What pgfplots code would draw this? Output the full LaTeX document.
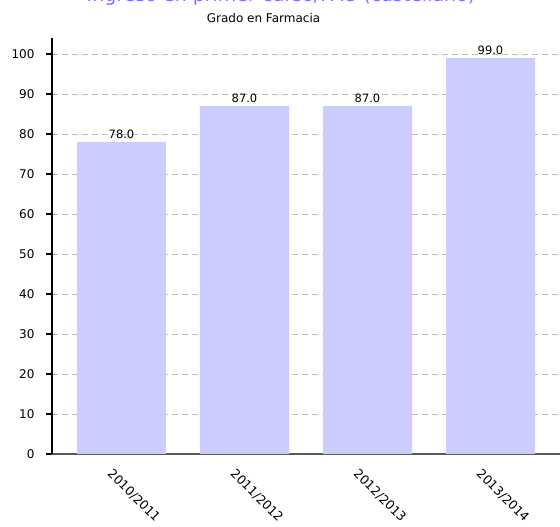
\documentclass[border=0pt]{standalone}
\usepackage{pgfplots}
\pgfplotsset{compat=1.18}
\usepackage{fontspec}
\setmainfont{DejaVu Sans}
\definecolor{barfill}{RGB}{204,204,255}
\definecolor{titleblue}{RGB}{120,120,255}
\definecolor{gridgray}{RGB}{190,190,190}
\begin{document}
\begin{tikzpicture}
\begin{axis}[
    at={(0,0)}, anchor=south west,
    scale only axis,
    width=508pt, height=416pt,
    xmin=-0.565, xmax=3.565,
    ymin=0, ymax=104,
    ybar, bar width=89pt, bar shift=0pt,
    axis lines=left,
    x axis line style={draw=black!65, line width=1.2pt, -},
    y axis line style={draw=black, line width=1.8pt, -},
    xtick={0,1,2,3},
    xticklabels={2010/2011,2011/2012,2012/2013,2013/2014},
    xtick style={draw=none},
    xticklabel style={xshift=-8pt, yshift=-3pt, rotate=-45, anchor=north west, font=\fontsize{12.5}{15}\selectfont},
    ytick={0,10,...,100},
    ytick style={draw=black, line width=1.8pt},
    tick align=outside,
    major tick length=6pt,
    yticklabel style={font=\fontsize{12}{14}\selectfont, xshift=-8pt},
    /pgf/number format/assume math mode=true,
    ymajorgrids,
    major grid style={gridgray, dash pattern=on 6pt off 4pt, line width=0.8pt},
    nodes near coords={\pgfmathprintnumber[fixed,fixed zerofill,precision=1]{\pgfplotspointmeta}},
    nodes near coords style={font=\fontsize{11.5}{14}\selectfont, text=black},
]
\addplot+[fill=barfill, draw=none] coordinates {(0,78) (1,87) (2,87) (3,99)};
\end{axis}
\node[anchor=base, text=titleblue, font=\fontsize{19}{22}\selectfont] at (229pt,452pt) {Ingreso en primer curso/PAU (castellano)};
\node[anchor=base, font=\fontsize{12}{14}\selectfont] at (211.5pt,431pt) {Grado en Farmacia};
\pgfresetboundingbox
\useasboundingbox (-52pt,-73pt) rectangle (508pt,454pt);
\end{tikzpicture}
\end{document}
